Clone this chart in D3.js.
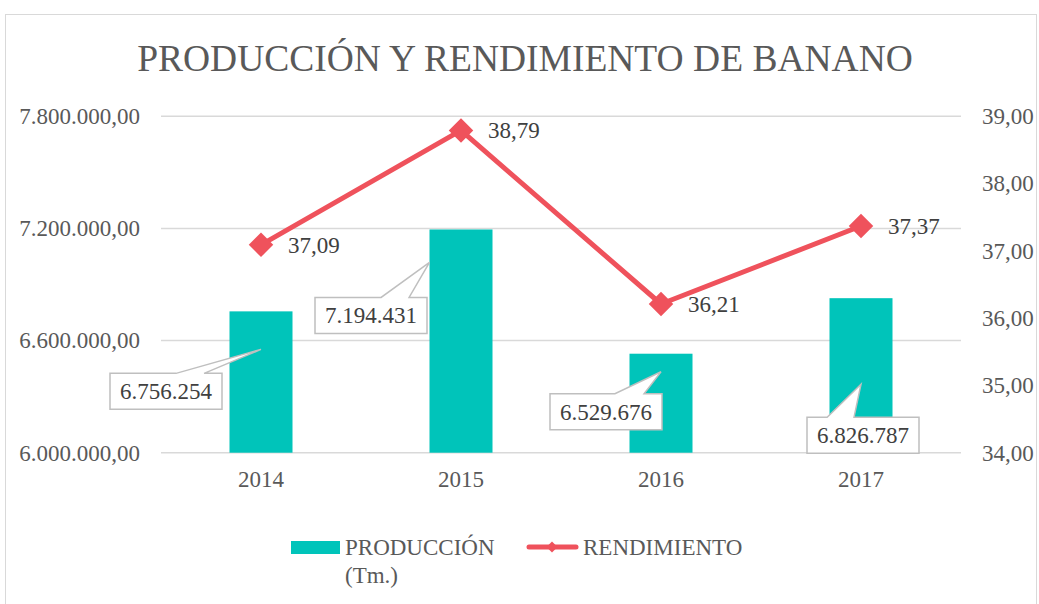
<!DOCTYPE html>
<html>
<head>
<meta charset="utf-8">
<script src="https://cdn.jsdelivr.net/npm/d3@7"></script>
<style>
  body { margin: 0; background: #fff; }
</style>
</head>
<body>
<div id="chart"></div>
<script>
// Datos del gráfico
const years = ["2014", "2015", "2016", "2017"];
const produccion = [6756254, 7194431, 6529676, 6826787];
const rendimiento = [37.09, 38.79, 36.21, 37.37];
const leftTicks = [6000000, 6600000, 7200000, 7800000];
const rightTicks = [34, 35, 36, 37, 38, 39];

// posicion de los cuadros de etiqueta (relativa a la barra): caja, punta y arranque del triangulo
const callouts = [
  {bx: -95, by: 62, tipDy: 38, fa: 0.59, fb: 0.84},
  {bx: -90, by: 68, tipDy: 33, fa: 0.59, fb: 0.84},
  {bx: -55, by: 40, tipDy: 18, fa: 0.58, fb: 0.84},
  {bx: 2,  by: 119, tipDy: 86, fa: 0.18, fb: 0.42}
];

const FONT = '"Liberation Serif", "Times New Roman", serif';
const width = 1039, height = 604;
const margin = {left: 161, right: 78, top: 116.3, bottom: 151.3};
const teal = "#00C4BA", red = "#EF525C";
const es = d3.formatLocale({decimal: ",", thousands: ".", grouping: [3], currency: ["", ""]});
const fmtAxis = es.format(",.2f");
const fmtBar = es.format(",.0f");

const svg = d3.select("#chart").append("svg")
    .attr("width", width)
    .attr("height", height)
    .style("font-family", FONT);

// marco
svg.append("rect")
    .attr("x", 5.5).attr("y", 14.5)
    .attr("width", 1031).attr("height", 620)
    .attr("fill", "none").attr("stroke", "#d9d9d9");

svg.append("text")
    .attr("x", 525).attr("y", 71)
    .attr("text-anchor", "middle")
    .attr("fill", "#595959")
    .style("font-family", FONT)
    .style("font-size", "37.5px")
    .text("PRODUCCIÓN Y RENDIMIENTO DE BANANO");

const x = d3.scaleBand()
    .domain(years)
    .range([margin.left, width - margin.right])
    .paddingInner(0.685)
    .paddingOuter(0.3425);

const y = d3.scaleLinear()
    .domain([6000000, 7800000])
    .range([height - margin.bottom, margin.top]);

const y2 = d3.scaleLinear()
    .domain([34, 39])
    .range([height - margin.bottom, margin.top]);

// rejilla
svg.append("g")
    .selectAll("line")
    .data(leftTicks)
    .join("line")
    .attr("x1", margin.left).attr("x2", width - margin.right)
    .attr("y1", d => y(d)).attr("y2", d => y(d))
    .attr("stroke", "#d9d9d9").attr("stroke-width", 1.5);

function styleAxis(g) {
  g.select(".domain").remove();
  g.selectAll("text")
      .attr("fill", "#595959")
      .style("font-size", "23px")
      .style("font-family", FONT);
}

// eje izquierdo
svg.append("g")
    .attr("transform", `translate(${margin.left - 21},0)`)
    .call(d3.axisLeft(y).tickValues(leftTicks).tickFormat(fmtAxis).tickSize(0).tickPadding(0))
    .call(styleAxis);

// eje derecho
svg.append("g")
    .attr("transform", `translate(${width - margin.right + 21},0)`)
    .call(d3.axisRight(y2).tickValues(rightTicks).tickFormat(fmtAxis).tickSize(0).tickPadding(0))
    .call(styleAxis);

// eje x
svg.append("g")
    .attr("transform", `translate(0,${height - margin.bottom})`)
    .call(d3.axisBottom(x).tickSize(0).tickPadding(18))
    .call(styleAxis);

// barras
svg.append("g")
    .selectAll("rect")
    .data(produccion)
    .join("rect")
    .attr("x", (d, i) => x(years[i]))
    .attr("y", d => y(d))
    .attr("width", x.bandwidth())
    .attr("height", d => y(6000000) - y(d))
    .attr("fill", teal);

// linea
const line = d3.line()
    .x((d, i) => x(years[i]) + x.bandwidth() / 2)
    .y(d => y2(d));

svg.append("path")
    .datum(rendimiento)
    .attr("d", line)
    .attr("fill", "none")
    .attr("stroke", red)
    .attr("stroke-width", 5)
    .attr("stroke-linejoin", "round");

svg.append("g")
    .selectAll("path")
    .data(rendimiento)
    .join("path")
    .attr("d", d3.symbol(d3.symbolSquare, 300))
    .attr("transform", (d, i) => `translate(${x(years[i]) + x.bandwidth() / 2},${y2(d)}) rotate(45)`)
    .attr("fill", red);

svg.append("g")
    .selectAll("text")
    .data(rendimiento)
    .join("text")
    .attr("x", (d, i) => x(years[i]) + x.bandwidth() / 2 + 27)
    .attr("y", d => y2(d) + 8)
    .attr("fill", "#404040")
    .style("font-family", FONT)
    .style("font-size", "23px")
    .text(d => fmtAxis(d));

// etiquetas tipo globo para las barras
const bw = 112, bh = 36;
const cg = svg.append("g");
produccion.forEach((d, i) => {
  const c = callouts[i];
  const cx = x(years[i]) + x.bandwidth() / 2;
  const tipX = i == 1 ? x(years[i]) : cx;
  const tipY = y(d) + c.tipDy;
  const boxCx = cx + c.bx, boxTop = y(d) + c.by;
  const x0 = boxCx - bw / 2, x1 = boxCx + bw / 2, y0 = boxTop, y1 = boxTop + bh;
  const a = x0 + bw * c.fa, b = x0 + bw * c.fb;
  const pts = [[x0, y0], [a, y0], [tipX, tipY], [b, y0], [x1, y0], [x1, y1], [x0, y1]];
  cg.append("path")
      .attr("d", "M" + pts.map(p => p.join(",")).join("L") + "Z")
      .attr("fill", "#fff")
      .attr("stroke", "#bfbfbf")
      .attr("stroke-width", 1.5);
  cg.append("text")
      .attr("x", boxCx).attr("y", y1 - 10)
      .attr("text-anchor", "middle")
      .attr("fill", "#404040")
      .style("font-family", FONT)
      .style("font-size", "23px")
      .text(fmtBar(d));
});

// leyenda
const lg = svg.append("g").style("font-family", FONT);
lg.append("rect")
    .attr("x", 291).attr("y", 541).attr("width", 49).attr("height", 13)
    .attr("fill", teal);
lg.append("text")
    .attr("x", 345).attr("y", 555)
    .attr("fill", "#595959").style("font-size", "23px")
    .text("PRODUCCIÓN");
lg.append("text")
    .attr("x", 345).attr("y", 583)
    .attr("fill", "#595959").style("font-size", "23px")
    .text("(Tm.)");
lg.append("line")
    .attr("x1", 529).attr("x2", 576).attr("y1", 547).attr("y2", 547)
    .attr("stroke", red).attr("stroke-width", 5).attr("stroke-linecap", "round");
lg.append("path")
    .attr("d", d3.symbol(d3.symbolSquare, 60))
    .attr("transform", "translate(552,547) rotate(45)")
    .attr("fill", red);
lg.append("text")
    .attr("x", 583).attr("y", 555)
    .attr("fill", "#595959").style("font-size", "23px")
    .text("RENDIMIENTO");
</script>
</body>
</html>
